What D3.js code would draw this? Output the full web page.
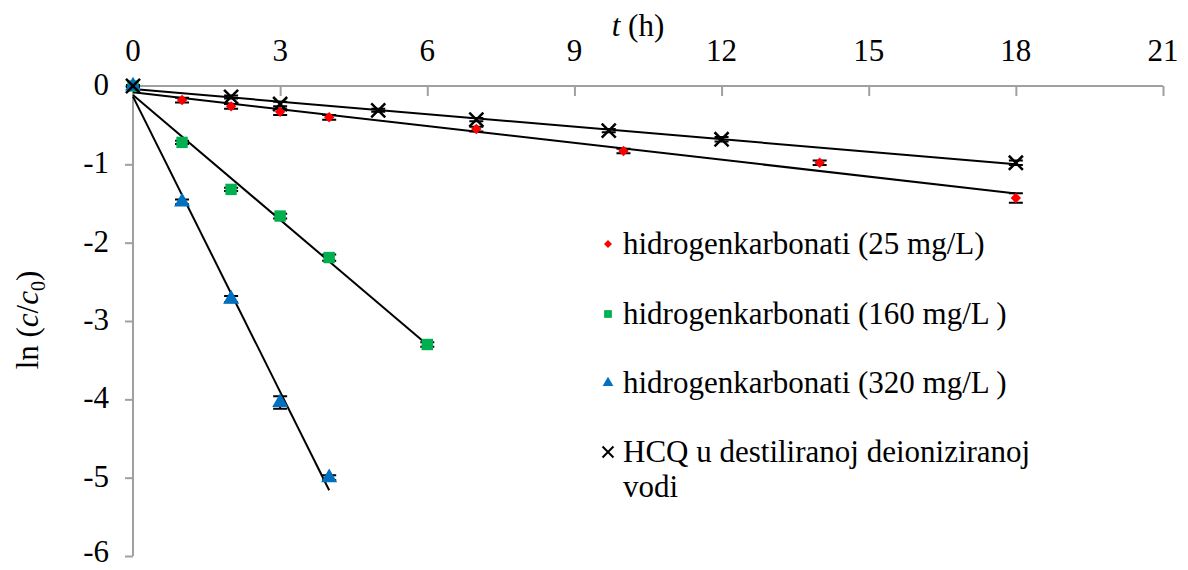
<!DOCTYPE html>
<html><head><meta charset="utf-8">
<script src="https://cdn.jsdelivr.net/npm/d3@7"></script>
<style>body{margin:0;background:#fff}svg{display:block}</style>
</head><body>
<svg id="c" width="1188" height="570"></svg>
<script>
const xTicks = [0,3,6,9,12,15,18,21];
const yTicks = [0,-1,-2,-3,-4,-5,-6];

const t25 = [0,1,2,3,4,7,10,14,18];
const v25 = [0,-0.18,-0.26,-0.33,-0.40,-0.55,-0.83,-0.98,-1.43];
const e25 = [0.01,0.03,0.03,0.04,0.03,0.03,0.03,0.03,0.06];

const t160 = [0,1,2,3,4,6];
const v160 = [0,-0.72,-1.32,-1.66,-2.19,-3.30];
const e160 = [0.01,0.02,0.02,0.03,0.04,0.03];

const t320 = [0,1,2,3,4];
const v320 = [0,-1.48,-2.72,-4.04,-5.0];
const e320 = [0.01,0.03,0.04,0.08,0.03];

const tW = [0,2,3,5,7,9.7,12,18];
const vW = [0,-0.14,-0.23,-0.31,-0.43,-0.57,-0.68,-0.98];
const eW = [0.01,0.02,0.03,0.02,0.02,0.02,0.03,0.03];

const names = ["hidrogenkarbonati (25 mg/L)","hidrogenkarbonati (160 mg/L )","hidrogenkarbonati (320 mg/L )","HCQ u destiliranoj deioniziranoj","vodi"];

const series = [
  {t:t25,v:v25,e:e25,sym:d3.symbolDiamond2,color:"#ff0000",size:70,lsize:40,name:names[0]},
  {t:t160,v:v160,e:e160,sym:d3.symbolSquare,color:"#00b050",size:130,lsize:60,name:names[1]},
  {t:t320,v:v320,e:e320,sym:d3.symbolTriangle,color:"#0070c0",size:110,lsize:50,name:names[2]},
  {t:tW,v:vW,e:eW,sym:d3.symbolTimes,color:"#000000",size:130,lsize:80,name:names[3],name2:names[4]}
];

const svg = d3.select("#c");
const font = "'Liberation Serif','Times New Roman',serif";
const FS = 31;
const x = d3.scaleLinear().domain([0,21]).range([133,1163]);
const y = d3.scaleLinear().domain([0,-6]).range([86,556]);

// axes
const gx = svg.append("g").attr("transform","translate(0,86)")
  .call(d3.axisBottom(x).tickValues(xTicks).tickSize(10).tickFormat(""));
gx.select(".domain").attr("stroke","#a0a0a0").attr("stroke-width",2).attr("d","M133,0H1163");
gx.selectAll(".tick line").attr("stroke","#a0a0a0").attr("stroke-width",2);
svg.append("g").selectAll("text").data(xTicks).join("text")
  .attr("x",d=>x(d)).attr("y",61).attr("text-anchor","middle")
  .attr("font-family",font).attr("font-size",FS).text(d=>d);

const gy = svg.append("g").attr("transform","translate(133,0)")
  .call(d3.axisLeft(y).tickValues(yTicks).tickSize(8).tickFormat(""));
gy.select(".domain").attr("stroke","#a0a0a0").attr("stroke-width",2).attr("d","M0,86V556");
gy.selectAll(".tick line").attr("stroke","#a0a0a0").attr("stroke-width",2);
svg.append("g").selectAll("text").data(yTicks).join("text")
  .attr("x",109).attr("y",d=>Math.min(y(d)+9, 562)).attr("text-anchor","end")
  .attr("font-family",font).attr("font-size",FS).text(d=>d===0?"0":"-"+Math.abs(d));

// axis titles
const xt = svg.append("text").attr("x",638).attr("y",36).attr("text-anchor","middle")
  .attr("font-family",font).attr("font-size",FS);
xt.append("tspan").attr("font-style","italic").text("t");
xt.append("tspan").text(" (h)");

const yt = svg.append("text").attr("transform","translate(38,320) rotate(-90)")
  .attr("text-anchor","middle").attr("font-family",font).attr("font-size",FS);
yt.append("tspan").text("ln (");
yt.append("tspan").attr("font-style","italic").text("c");
yt.append("tspan").text("/");
yt.append("tspan").attr("font-style","italic").text("c");
yt.append("tspan").attr("font-size",20).attr("dy",7).text("0");
yt.append("tspan").attr("dy",-7).text(")");

// regression
function fit(t,v){
  const mt=d3.mean(t), mv=d3.mean(v);
  let sxy=0,sxx=0;
  t.forEach((ti,i)=>{sxy+=(ti-mt)*(v[i]-mv);sxx+=(ti-mt)*(ti-mt);});
  const b=sxy/sxx; return {b, a:mv-b*mt};
}

const lineG = svg.append("g"), errG = svg.append("g"), markG = svg.append("g");
series.forEach(s=>{
  const f = fit(s.t,s.v);
  const t0 = 0, t1 = d3.max(s.t);
  lineG.append("line").attr("x1",x(t0)).attr("y1",y(f.a+f.b*t0))
    .attr("x2",x(t1)).attr("y2",y(f.a+f.b*t1))
    .attr("stroke","#000").attr("stroke-width",2);
  s.t.forEach((ti,i)=>{
    const cx=x(ti), y1=y(s.v[i]+s.e[i]), y2=y(s.v[i]-s.e[i]);
    errG.append("path").attr("d",`M${cx},${y1}V${y2}M${cx-7},${y1}H${cx+7}M${cx-7},${y2}H${cx+7}`)
      .attr("stroke","#000").attr("stroke-width",2).attr("fill","none");
  });
  markG.selectAll(null).data(s.t.map((ti,i)=>[ti,s.v[i]])).join("path")
    .attr("transform",d=>`translate(${x(d[0])},${y(d[1])})`)
    .attr("d",d3.symbol(s.sym,s.size))
    .attr("fill",s.sym===d3.symbolTimes?"none":s.color)
    .attr("stroke",s.sym===d3.symbolTimes?s.color:"none")
    .attr("stroke-width",2.5);
});

// legend
const leg = svg.append("g");
const rowsY = [244,314,383,452];
series.forEach((s,i)=>{
  leg.append("path").attr("transform",`translate(608,${rowsY[i]})`)
    .attr("d",d3.symbol(s.sym,s.lsize))
    .attr("fill",s.sym===d3.symbolTimes?"none":s.color)
    .attr("stroke",s.sym===d3.symbolTimes?s.color:"none")
    .attr("stroke-width",2);
  leg.append("text").attr("x",623).attr("y",rowsY[i]+10)
    .attr("font-family",font).attr("font-size",FS).text(s.name);
  if(s.name2){
    leg.append("text").attr("x",623).attr("y",rowsY[i]+45)
      .attr("font-family",font).attr("font-size",FS).text(s.name2);
  }
});
</script>
</body></html>
